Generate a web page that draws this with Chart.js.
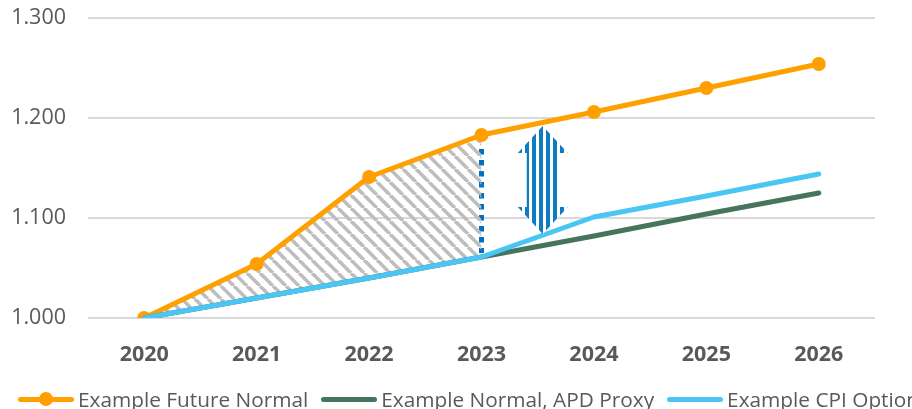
<!DOCTYPE html>
<html>
<head>
<meta charset="utf-8">
<script src="https://cdn.jsdelivr.net/npm/chart.js@4.4.1/dist/chart.umd.min.js"></script>
<style>
  html, body { margin:0; padding:0; background:#fff; }
  #wrap { position:relative; width:912px; height:409px; overflow:hidden; }
  #chart { position:absolute; left:0; top:0; }
  #legend { position:absolute; left:18px; top:385px; display:flex; align-items:center; gap:13px;
            font-family:"Open Sans", sans-serif; font-size:20.8px; color:#595959; white-space:nowrap; }
  #legend .item { display:flex; align-items:center; gap:4px; }
  #legend .sw { position:relative; width:56px; height:5px; border-radius:3px; }
  #legend .dot { position:absolute; left:21px; top:-4.5px; width:14px; height:14px; border-radius:50%; }
</style>
</head>
<body>
<div id="wrap">
  <canvas id="chart" width="912" height="409"></canvas>
  <div id="legend"></div>
</div>
<script>
// ===== Data =====
const YEARS   = ['2020','2021','2022','2023','2024','2025','2026'];
const FUTURE  = [1.000, 1.054, 1.141, 1.183, 1.206, 1.230, 1.254];
const APD     = [1.000, 1.020, 1.040, 1.061, 1.082, 1.104, 1.125];
const CPI     = [1.000, 1.020, 1.040, 1.061, 1.101, 1.122, 1.144];
const Y_TICKS = [1.000, 1.100, 1.200, 1.300];
// shaded gap covers the first four years
const GAP_END = 3;
const GAP     = FUTURE.map((v, i) => i <= GAP_END ? v : null);

const C_ORANGE = '#FFA000', C_GREEN = '#48745E', C_BLUE = '#4AC6F4', C_MARK = '#0E7CC3';
const TEXT = '#595959';

// ===== Patterns =====
function hatchPattern(){
  const p = 13, c = document.createElement('canvas');
  c.width = p; c.height = p;
  const x = c.getContext('2d');
  x.strokeStyle = '#BEBEBE'; x.lineWidth = 3.6;
  [-p, 0, p].forEach(o => { x.beginPath(); x.moveTo(o, 0); x.lineTo(o + p, p); x.stroke(); });
  return x.createPattern(c, 'repeat');
}
function stripePattern(){
  const c = document.createElement('canvas');
  c.width = 7; c.height = 7;
  const x = c.getContext('2d');
  x.fillStyle = '#fff'; x.fillRect(0, 0, 7, 7);
  x.fillStyle = C_MARK; x.fillRect(0, 0, 4, 7);
  return x.createPattern(c, 'repeat');
}

// ===== Annotations: dotted divider at 2023 + striped double arrow =====
const annot = {
  id:'annot',
  beforeDatasetsDraw(chart){
    const { ctx, scales:{ x, y } } = chart;
    const px = x.getPixelForValue(GAP_END);
    ctx.save();
    ctx.strokeStyle = '#0070C0'; ctx.lineWidth = 5; ctx.setLineDash([5.5, 5.5]);
    ctx.beginPath();
    ctx.moveTo(px, y.getPixelForValue(FUTURE[GAP_END]) + 14);
    ctx.lineTo(px, y.getPixelForValue(CPI[GAP_END]) - 4);
    ctx.stroke();
    ctx.restore();
  },
  afterDatasetsDraw(chart){
    const { ctx, scales:{ x, y } } = chart;
    const cx = x.getPixelForValue(GAP_END + 0.545);
    const top = y.getPixelForValue(1.192), bot = y.getPixelForValue(1.084);
    const hw = 25, sw = 16, hh = 27;
    ctx.save();
    ctx.beginPath();
    ctx.moveTo(cx, top);
    ctx.lineTo(cx + hw, top + hh);
    ctx.lineTo(cx + sw, top + hh);
    ctx.lineTo(cx + sw, bot - hh);
    ctx.lineTo(cx + hw, bot - hh);
    ctx.lineTo(cx, bot);
    ctx.lineTo(cx - hw, bot - hh);
    ctx.lineTo(cx - sw, bot - hh);
    ctx.lineTo(cx - sw, top + hh);
    ctx.lineTo(cx - hw, top + hh);
    ctx.closePath();
    ctx.fillStyle = '#fff'; ctx.fill();
    ctx.fillStyle = stripePattern(); ctx.fill();
    ctx.restore();
  }
};

// ===== Chart =====
const ctx = document.getElementById('chart').getContext('2d');
new Chart(ctx, {
  type:'line',
  data:{
    labels:YEARS,
    datasets:[
      { label:'gap', data:GAP, borderWidth:0, pointRadius:0, fill:2, backgroundColor:hatchPattern(), order:4 },
      { label:'Example Future Normal', data:FUTURE, borderColor:C_ORANGE, backgroundColor:C_ORANGE,
        borderWidth:5, pointRadius:7, pointHoverRadius:7, pointBorderWidth:0, order:3 },
      { label:'Example Normal, APD Proxy', data:APD, borderColor:C_GREEN, borderWidth:5, pointRadius:0, order:2 },
      { label:'Example CPI Option', data:CPI, borderColor:C_BLUE, borderWidth:5, pointRadius:0, order:1 },
    ]
  },
  options:{
    responsive:false, animation:false,
    layout:{ padding:{ top:18, right:37, left:0, bottom:0 } },
    plugins:{ legend:{display:false}, tooltip:{enabled:false} },
    elements:{ line:{ tension:0, borderCapStyle:'round', borderJoinStyle:'round' } },
    scales:{
      x:{
        offset:true,
        grid:{ display:false }, border:{ display:false },
        ticks:{ color:TEXT, padding:16, font:{ family:'Open Sans', size:21.5, weight:'bold' } },
        afterFit(s){ s.height = 91; }
      },
      y:{
        min:1.0, max:1.3,
        afterBuildTicks(s){ s.ticks = Y_TICKS.map(v => ({ value:v })); },
        grid:{ color:'#D9D9D9', lineWidth:2, drawTicks:false }, border:{ display:false },
        ticks:{ color:TEXT, padding:22, font:{ family:'Open Sans', size:21.5 },
                callback:(v) => Number(v).toFixed(3) },
        afterFit(s){ s.width = 88; s.paddingTop = 0; s.paddingBottom = 0; }
      }
    }
  },
  plugins:[annot]
});

// ===== Legend =====
const LEGEND = [
  { label:'Example Future Normal', color:C_ORANGE, dot:true },
  { label:'Example Normal, APD Proxy', color:C_GREEN },
  { label:'Example CPI Option', color:C_BLUE },
];
document.getElementById('legend').innerHTML = LEGEND.map(l => `
  <div class="item"><span class="sw" style="background:${l.color}">${l.dot ? `<span class="dot" style="background:${l.color}"></span>` : ''}</span><span>${l.label}</span></div>
`).join('');
</script>
</body>
</html>
